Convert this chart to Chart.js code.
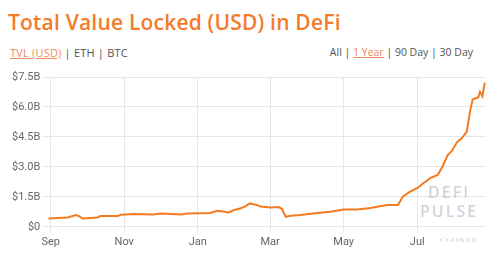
<!DOCTYPE html>
<html>
<head>
<meta charset="utf-8">
<script src="https://cdn.jsdelivr.net/npm/chart.js@4"></script>
<style>
  body { margin: 0; width: 498px; height: 254px; background: #fff; font-family: "Open Sans", sans-serif; overflow: hidden; position: relative; }
  #title { position: absolute; left: 8px; top: 8px; font-size: 21px; font-weight: 600; color: #f47b2a; letter-spacing: 0.2px; white-space: nowrap; }
  .nav { position: absolute; top: 45px; font-size: 10.5px; color: #555; white-space: nowrap; }
  .nav .on { color: #ee8a5c; text-decoration: underline; }
  #left { left: 10px; font-size: 11px; letter-spacing: 0.2px; }
  #right { right: 25px; }
  #wrap { position: absolute; left: 0; top: 60px; width: 498px; height: 194px; }
  .wm { position: absolute; color: #d2d2dc; font-weight: 600; letter-spacing: 2px; }
</style>
</head>
<body>
<div id="title">Total Value Locked (USD) in DeFi</div>
<div class="nav" id="left"><span class="on">TVL (USD)</span> | ETH | BTC</div>
<div class="nav" id="right">All | <span class="on">1 Year</span> | 90 Day | 30 Day</div>
<div id="wrap"><canvas id="tvlChart"></canvas></div>
<div class="wm" style="left:428px;top:181px;font-size:16px;">DEFI</div>
<div class="wm" style="left:420px;top:200px;font-size:16px;">PULSE</div>
<div class="wm" style="left:440px;top:236px;font-size:6px;letter-spacing:1.5px;">CXAINOD</div>
<script>
// days since Sep 1 2019
const dayOffsets = [-2, 14, 21, 23, 26.5, 39, 41, 55.5, 58, 69, 85, 91, 108, 113.5, 132.5, 138, 143, 147.5, 152, 157, 161.5, 165, 170, 174, 182, 189, 192, 193, 195, 199, 207, 221, 232, 243, 254, 265, 279, 288, 292, 298, 304, 309, 315, 321, 325, 329, 333, 337, 341, 345, 348, 350, 354.6, 356, 358, 360];
// TVL in billions USD
const tvlBillions = [0.42, 0.47, 0.59, 0.55, 0.42, 0.47, 0.54, 0.54, 0.6, 0.64, 0.62, 0.67, 0.62, 0.67, 0.69, 0.8, 0.77, 0.72, 0.84, 0.92, 1.02, 1.17, 1.1, 1.02, 0.97, 0.99, 0.89, 0.72, 0.5, 0.55, 0.59, 0.69, 0.75, 0.86, 0.87, 0.94, 1.09, 1.09, 1.51, 1.76, 1.93, 2.18, 2.45, 2.6, 3.02, 3.57, 3.82, 4.24, 4.44, 4.75, 5.84, 6.38, 6.48, 6.76, 6.54, 7.21];
const monthTicks = [0, 61, 122, 182, 243, 304];
const monthLabels = ['Sep', 'Nov', 'Jan', 'Mar', 'May', 'Jul'];
const yTicks = [0, 1.5, 3.0, 4.5, 6.0, 7.5];

const ctx = document.getElementById('tvlChart').getContext('2d');
new Chart(ctx, {
    type: 'line',
    data: {
        datasets: [{
            data: dayOffsets.map((d, i) => ({ x: d, y: tvlBillions[i] })),
            borderColor: '#f47b20',
            borderWidth: 2,
            pointRadius: 0,
            tension: 0,
            fill: false
        }]
    },
    options: {
        animation: false,
        responsive: true,
        maintainAspectRatio: false,
        layout: { padding: { left: 10, right: 12, top: 17, bottom: 2 } },
        plugins: { legend: { display: false }, tooltip: { enabled: false } },
        scales: {
            x: {
                type: 'linear',
                min: -2,
                max: 361,
                afterBuildTicks: axis => { axis.ticks = monthTicks.map(v => ({ value: v })); },
                ticks: {
                    color: '#666',
                    font: { size: 11, family: 'Roboto' },
                    callback: v => monthLabels[monthTicks.indexOf(v)] || ''
                },
                grid: { color: '#e6e6e6', tickLength: 6 },
                border: { display: false }
            },
            y: {
                min: 0,
                max: 7.5,
                afterBuildTicks: axis => { axis.ticks = yTicks.map(v => ({ value: v })); },
                ticks: {
                    color: '#666',
                    font: { size: 11, family: 'Roboto' },
                    padding: 2,
                    callback: v => v === 0 ? '$0' : '$' + v.toFixed(1) + 'B'
                },
                grid: { color: '#e6e6e6', tickLength: 6 },
                border: { display: false }
            }
        }
    }
});
</script>
</body>
</html>
